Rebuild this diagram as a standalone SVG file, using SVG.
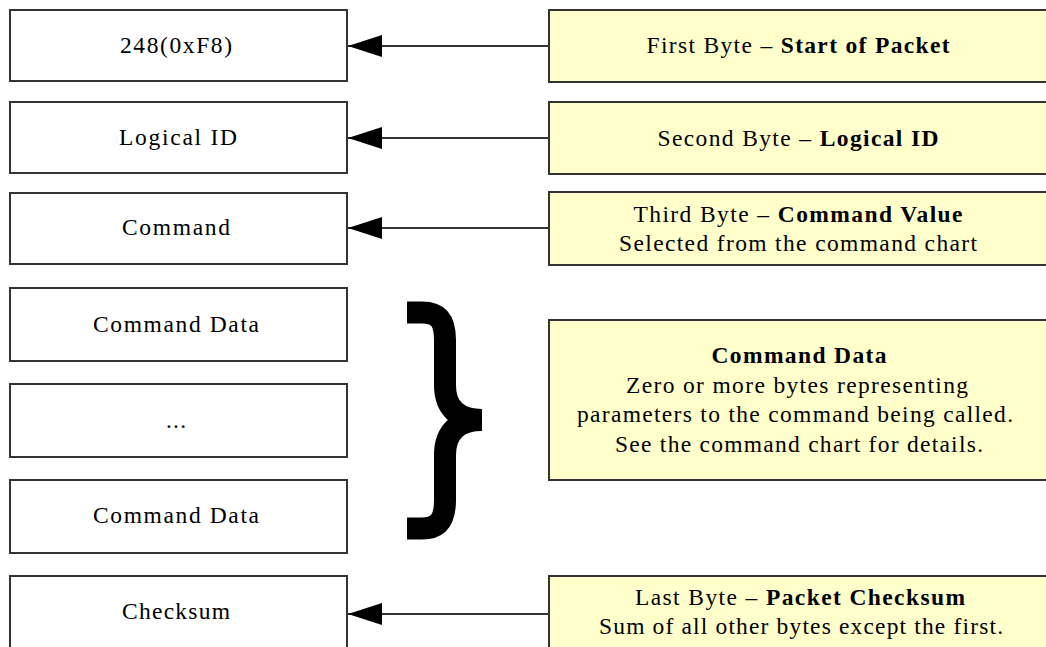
<svg xmlns="http://www.w3.org/2000/svg" width="1046" height="647" viewBox="0 0 1046 647">
<defs>
<style>
.box{fill:#ffffff;stroke:#333333;stroke-width:2}
.note{fill:#ffffcc;stroke:#333333;stroke-width:2}
text{font-family:"Liberation Serif","Times New Roman",serif;font-size:23.5px;fill:#000000;text-anchor:middle}
.b{font-weight:bold}
.conn{stroke:#333333;stroke-width:2;fill:none}
</style>
<marker id="ah" viewBox="0 -11 34 22" markerWidth="34" markerHeight="22" refX="34" refY="0" orient="auto" markerUnits="userSpaceOnUse">
<path d="M0,-11 L34,0 L0,11 Z" fill="#000000"/>
</marker>
</defs>
<rect width="1046" height="647" fill="#ffffff"/>

<g id="byte1">
<rect class="box" x="10" y="10" width="337" height="71"/>
<text x="176" y="53" textLength="112" lengthAdjust="spacing">248(0xF8)</text>
</g>
<g id="byte2">
<rect class="box" x="10" y="102" width="337" height="71"/>
<text x="178" y="145" textLength="118" lengthAdjust="spacing">Logical ID</text>
</g>
<g id="byte3">
<rect class="box" x="10" y="193" width="337" height="71"/>
<text x="176" y="235" textLength="108" lengthAdjust="spacing">Command</text>
</g>
<g id="data1">
<rect class="box" x="10" y="288" width="337" height="73"/>
<text x="176" y="332" textLength="166" lengthAdjust="spacing">Command Data</text>
</g>
<g id="dots">
<rect class="box" x="10" y="384" width="337" height="73"/>
<text x="176" y="428" textLength="20" lengthAdjust="spacing">...</text>
</g>
<g id="data2">
<rect class="box" x="10" y="480" width="337" height="73"/>
<text x="176" y="523" textLength="166" lengthAdjust="spacing">Command Data</text>
</g>
<g id="checksum">
<rect class="box" x="10" y="576" width="337" height="80"/>
<text x="176" y="619" textLength="108" lengthAdjust="spacing">Checksum</text>
</g>

<g id="note1">
<rect class="note" x="549" y="10" width="510" height="72"/>
<text x="798" y="53" textLength="303" lengthAdjust="spacing">First Byte – <tspan class="b">Start of Packet</tspan></text>
</g>
<g id="note2">
<rect class="note" x="549" y="102" width="510" height="72"/>
<text x="798" y="146" textLength="281" lengthAdjust="spacing">Second Byte – <tspan class="b">Logical ID</tspan></text>
</g>
<g id="note3">
<rect class="note" x="549" y="192" width="510" height="73"/>
<text x="798" y="222" textLength="329" lengthAdjust="spacing">Third Byte – <tspan class="b">Command Value</tspan></text>
<text x="798" y="251" textLength="358" lengthAdjust="spacing">Selected from the command chart</text>
</g>
<g id="note4">
<rect class="note" x="549" y="320" width="510" height="160"/>
<text class="b" x="799" y="363" textLength="175" lengthAdjust="spacing">Command Data</text>
<text x="797" y="393" textLength="342" lengthAdjust="spacing">Zero or more bytes representing</text>
<text x="795" y="422" textLength="436" lengthAdjust="spacing">parameters to the command being called.</text>
<text x="799" y="452" textLength="368" lengthAdjust="spacing">See the command chart for details.</text>
</g>
<g id="note5">
<rect class="note" x="549" y="576" width="510" height="80"/>
<text x="800" y="605" textLength="330" lengthAdjust="spacing">Last Byte – <tspan class="b">Packet Checksum</tspan></text>
<text x="801" y="634" textLength="404" lengthAdjust="spacing">Sum of all other bytes except the first.</text>
</g>

<g id="brace">
<path d="M407,312.5 H422 C440,312.5 445,322 445,340 V385 C445,408 458,420 482,420 M482,420 C458,420 445,432 445,455 V500 C445,518 440,528.5 422,528.5 H407" fill="none" stroke="#000000" stroke-width="22"/>
</g>

<g id="connectors">
<line class="conn" x1="549" y1="46" x2="348" y2="46" marker-end="url(#ah)"/>
<line class="conn" x1="549" y1="138" x2="348" y2="138" marker-end="url(#ah)"/>
<line class="conn" x1="549" y1="228" x2="348" y2="228" marker-end="url(#ah)"/>
<line class="conn" x1="549" y1="614" x2="348" y2="614" marker-end="url(#ah)"/>
</g>
</svg>
